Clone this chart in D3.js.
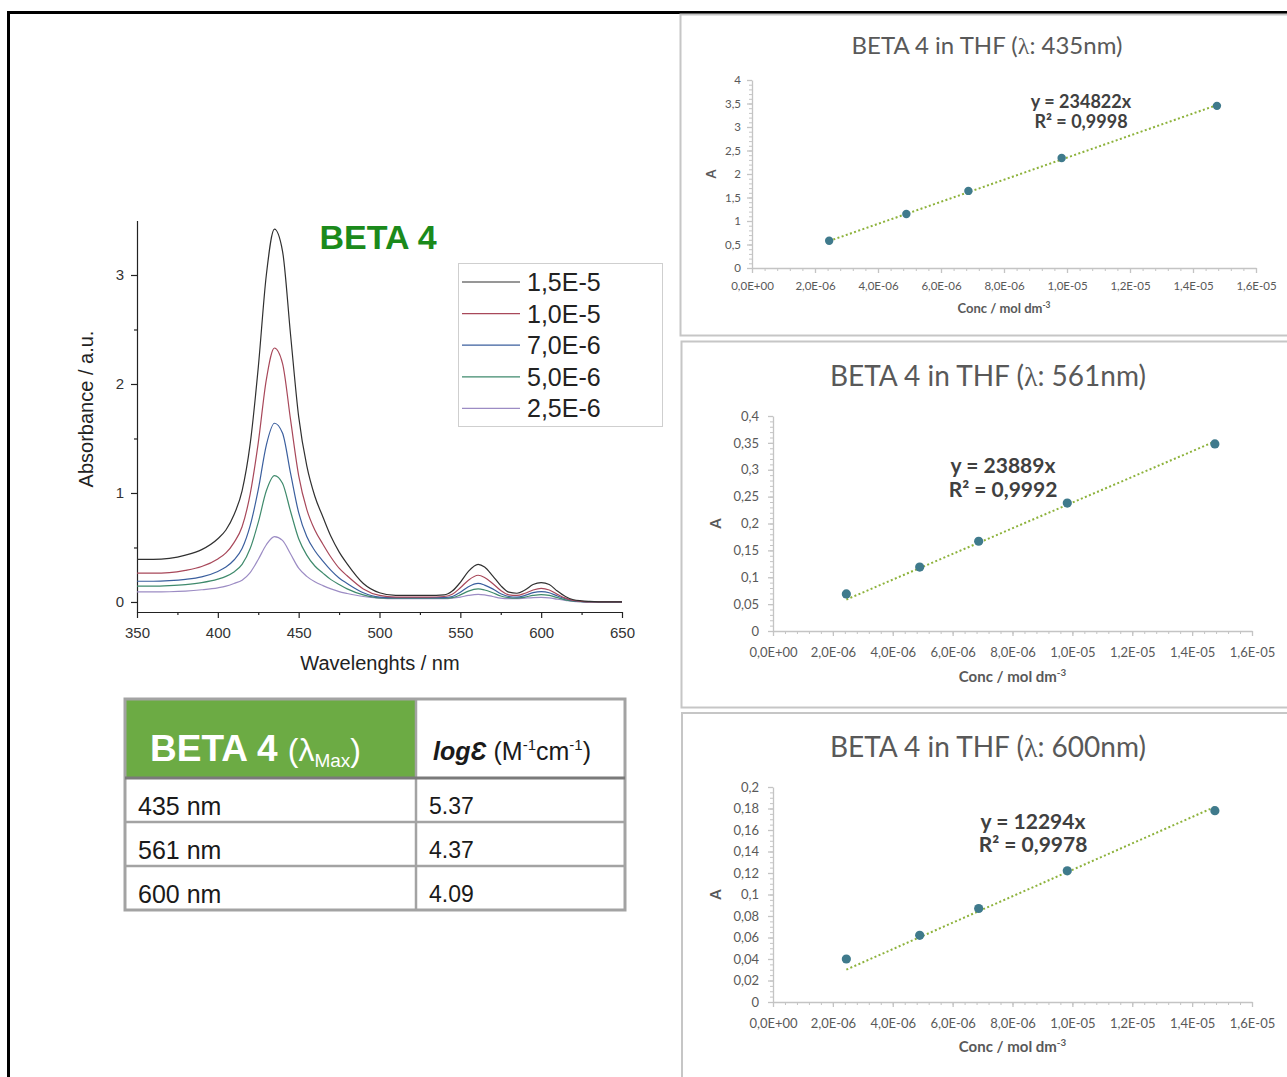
<!DOCTYPE html>
<html>
<head>
<meta charset="utf-8">
<script src="https://cdn.jsdelivr.net/npm/d3@7"></script>
<style>
  html, body { margin: 0; padding: 0; background: #fff; }
  svg { display: block; }
</style>
</head>
<body>
<svg id="fig" width="1287" height="1077"></svg>
<script>
// ---------- UV-Vis spectra of BETA 4 in THF ----------
const wavelengths = [350,360,370,380,390,400,405,410,415,420,425,430,435,440,445,450,455,460,465,470,475,480,490,500,510,520,530,540,545,550,555,561,565,570,575,580,585,590,595,600,605,610,615,620,625,630,640,650];
const absC15E5 = [0.39,0.39,0.40,0.43,0.48,0.58,0.66,0.80,1.02,1.45,2.15,3.00,3.42,3.22,2.45,1.70,1.25,0.97,0.78,0.60,0.46,0.35,0.17,0.085,0.06,0.06,0.06,0.065,0.10,0.18,0.28,0.345,0.32,0.24,0.15,0.09,0.08,0.11,0.16,0.178,0.16,0.10,0.05,0.02,0.01,0.005,0,0];
const absC10E5 = [0.265,0.265,0.27,0.29,0.325,0.395,0.45,0.545,0.69,0.99,1.46,2.04,2.33,2.19,1.67,1.16,0.85,0.66,0.53,0.41,0.31,0.24,0.12,0.06,0.045,0.045,0.045,0.05,0.07,0.13,0.20,0.245,0.225,0.17,0.105,0.065,0.06,0.08,0.11,0.125,0.11,0.07,0.035,0.015,0.005,0,0,0];
const absC70E6 = [0.19,0.19,0.195,0.207,0.23,0.28,0.32,0.385,0.49,0.70,1.03,1.44,1.64,1.55,1.18,0.82,0.60,0.47,0.375,0.29,0.22,0.17,0.085,0.045,0.04,0.04,0.04,0.04,0.05,0.09,0.14,0.17,0.155,0.12,0.075,0.05,0.045,0.06,0.085,0.095,0.085,0.055,0.03,0.012,0.004,0,0,0];
const absC50E6 = [0.145,0.145,0.15,0.16,0.178,0.21,0.235,0.275,0.345,0.49,0.73,1.02,1.16,1.09,0.83,0.58,0.43,0.33,0.265,0.205,0.16,0.12,0.065,0.038,0.035,0.035,0.035,0.035,0.04,0.065,0.10,0.12,0.11,0.085,0.055,0.04,0.035,0.045,0.06,0.068,0.06,0.04,0.02,0.008,0.003,0,0,0];
const absC25E6 = [0.092,0.092,0.094,0.10,0.112,0.13,0.145,0.17,0.20,0.27,0.39,0.525,0.60,0.565,0.44,0.31,0.235,0.185,0.15,0.12,0.095,0.078,0.05,0.035,0.03,0.03,0.03,0.03,0.035,0.045,0.06,0.07,0.065,0.05,0.035,0.03,0.03,0.035,0.04,0.042,0.038,0.025,0.015,0.005,0.002,0,0,0];
const legendLabels = ["1,5E-5","1,0E-5","7,0E-6","5,0E-6","2,5E-6"];
const specXTicks = [350,400,450,500,550,600,650];
const specXMinor = [375,425,475,525,575,625];
const specYTicks = [0,1,2,3];
const specYMinor = [0.5,1.5,2.5];

// ---------- log(epsilon) table ----------
const lambdaMaxRows = ["435 nm","561 nm","600 nm"];
const logEpsValues = ["5.37","4.37","4.09"];

// ---------- calibration lines (Beer-Lambert) ----------
const calibConc = [2.45e-6, 4.90e-6, 6.87e-6, 9.83e-6, 1.476e-5];
const calibAbs435 = [0.58, 1.15, 1.64, 2.34, 3.45];
const calibAbs561 = [0.069, 0.119, 0.167, 0.238, 0.348];
const calibAbs600 = [0.040, 0.062, 0.087, 0.122, 0.178];
const calibSlopes = [234822, 23889, 12294];
const calibR2 = ["0,9998", "0,9992", "0,9978"];
const calibLambda = ["435nm", "561nm", "600nm"];
const concTicks = [0, 2e-6, 4e-6, 6e-6, 8e-6, 1e-5, 1.2e-5, 1.4e-5, 1.6e-5];
const concTickLabels = ["0,0E+00","2,0E-06","4,0E-06","6,0E-06","8,0E-06","1,0E-05","1,2E-05","1,4E-05","1,6E-05"];
const absTicks435 = [0,0.5,1,1.5,2,2.5,3,3.5,4];
const absTickLabels435 = ["0","0,5","1","1,5","2","2,5","3","3,5","4"];
const absTicks561 = [0,0.05,0.1,0.15,0.2,0.25,0.3,0.35,0.4];
const absTickLabels561 = ["0","0,05","0,1","0,15","0,2","0,25","0,3","0,35","0,4"];
const absTicks600 = [0,0.02,0.04,0.06,0.08,0.1,0.12,0.14,0.16,0.18,0.2];
const absTickLabels600 = ["0","0,02","0,04","0,06","0,08","0,1","0,12","0,14","0,16","0,18","0,2"];

const svg = d3.select("#fig");
const ARIAL = "'Liberation Sans', Arial, sans-serif";
const CAL = "Lato, 'Open Sans', sans-serif";

// outer black frame (left and top edges visible)
svg.append("path")
  .attr("d", "M8.5,1077 V12.5 H1287")
  .attr("fill", "none").attr("stroke", "#000").attr("stroke-width", 3);

// ================= spectrum plot =================
const sx = d3.scaleLinear().domain([350, 650]).range([137, 622]);
const sy = d3.scaleLinear().domain([-0.092, 3.5]).range([612, 220.5]);

const spec = svg.append("g");

function styleAxis(g) {
  g.selectAll("path.domain").attr("stroke", "#222").attr("stroke-width", 1.2);
  g.selectAll(".tick line").attr("stroke", "#222").attr("stroke-width", 1.2);
  g.selectAll(".tick text").attr("fill", "#333").attr("font-size", 15).attr("font-family", ARIAL);
}

const yAx = spec.append("g").attr("transform", "translate(137,0)")
  .call(d3.axisLeft(sy).tickValues(specYTicks).tickFormat(d3.format("d")).tickSize(6).tickSizeOuter(0).tickPadding(7));
styleAxis(yAx);
const yMin = spec.append("g").attr("transform", "translate(137,0)")
  .call(d3.axisLeft(sy).tickValues(specYMinor).tickFormat("").tickSize(3).tickSizeOuter(0));
yMin.select("path.domain").remove();
yMin.selectAll(".tick line").attr("stroke", "#222").attr("stroke-width", 1.2);

const xAx = spec.append("g").attr("transform", "translate(0,612)")
  .call(d3.axisBottom(sx).tickValues(specXTicks).tickFormat(d3.format("d")).tickSize(6).tickSizeOuter(0).tickPadding(9));
styleAxis(xAx);
const xMin = spec.append("g").attr("transform", "translate(0,612)")
  .call(d3.axisBottom(sx).tickValues(specXMinor).tickFormat("").tickSize(3).tickSizeOuter(0));
xMin.select("path.domain").remove();
xMin.selectAll(".tick line").attr("stroke", "#222").attr("stroke-width", 1.2);

spec.append("text")
  .attr("transform", "translate(93,409) rotate(-90)")
  .attr("text-anchor", "middle").attr("font-family", ARIAL).attr("font-size", 20).attr("fill", "#222")
  .text("Absorbance / a.u.");
spec.append("text")
  .attr("x", 380).attr("y", 670)
  .attr("text-anchor", "middle").attr("font-family", ARIAL).attr("font-size", 20).attr("fill", "#222")
  .text("Wavelenghts / nm");

const specSeries = [absC15E5, absC10E5, absC70E6, absC50E6, absC25E6];
const specColors = ["#303030", "#a8485a", "#3b5f9e", "#3f8a6c", "#9c8cc4"];

const line = d3.line()
  .x((d, i) => sx(wavelengths[i]))
  .y(d => sy(d))
  .curve(d3.curveMonotoneX);

// draw the most dilute first so the darkest trace sits on top
specSeries.slice().reverse().forEach((vals, k) => {
  const idx = specSeries.length - 1 - k;
  spec.append("path")
    .datum(vals)
    .attr("d", line)
    .attr("fill", "none")
    .attr("stroke", specColors[idx])
    .attr("stroke-width", 1.2);
});

spec.append("text")
  .attr("x", 378).attr("y", 249)
  .attr("text-anchor", "middle").attr("font-family", ARIAL).attr("font-weight", "bold")
  .attr("font-size", 34).attr("fill", "#1b8a1b")
  .text("BETA 4");

// legend
const leg = spec.append("g");
leg.append("rect").attr("x", 458.5).attr("y", 263.5).attr("width", 204).attr("height", 163)
  .attr("fill", "#fff").attr("stroke", "#cfcfcf").attr("stroke-width", 1);
legendLabels.forEach((lab, i) => {
  const yy = 282 + i * 31.6;
  leg.append("line").attr("x1", 462).attr("x2", 520).attr("y1", yy).attr("y2", yy)
    .attr("stroke", specColors[i]).attr("stroke-width", 1.2);
  leg.append("text").attr("x", 527).attr("y", yy + 9)
    .attr("font-family", ARIAL).attr("font-size", 25).attr("fill", "#222").text(lab);
});

// ================= table =================
const tbl = svg.append("g");
const tX0 = 125, tX1 = 625, tXm = 416;
const tY0 = 699, tYh = 778, rowH = 44;
const tY1 = tYh + rowH * lambdaMaxRows.length;
tbl.append("rect").attr("x", tX0).attr("y", tY0).attr("width", tXm - tX0).attr("height", tYh - tY0)
  .attr("fill", "#6cab44");
tbl.append("rect").attr("x", tX0).attr("y", tY0).attr("width", tX1 - tX0).attr("height", tY1 - tY0)
  .attr("fill", "none").attr("stroke", "#a3a3a3").attr("stroke-width", 3);
tbl.append("line").attr("x1", tXm).attr("x2", tXm).attr("y1", tY0).attr("y2", tY1)
  .attr("stroke", "#a3a3a3").attr("stroke-width", 2.5);
tbl.append("line").attr("x1", tX0).attr("x2", tX1).attr("y1", tYh).attr("y2", tYh)
  .attr("stroke", "#7a7a7a").attr("stroke-width", 3);
lambdaMaxRows.forEach((r, i) => {
  if (i > 0) {
    tbl.append("line").attr("x1", tX0).attr("x2", tX1)
      .attr("y1", tYh + i * rowH).attr("y2", tYh + i * rowH)
      .attr("stroke", "#a3a3a3").attr("stroke-width", 2.5);
  }
  tbl.append("text").attr("x", 138).attr("y", tYh + i * rowH + 37)
    .attr("font-family", ARIAL).attr("font-size", 25).attr("fill", "#1a1a1a").text(r);
  tbl.append("text").attr("x", 429).attr("y", tYh + i * rowH + 36)
    .attr("font-family", ARIAL).attr("font-size", 23).attr("fill", "#1a1a1a").text(logEpsValues[i]);
});
const hdr = tbl.append("text").attr("x", 150).attr("y", 761)
  .attr("font-family", ARIAL).attr("fill", "#fff");
hdr.append("tspan").attr("font-size", 37).attr("font-weight", "bold").text("BETA 4 ");
hdr.append("tspan").attr("font-size", 32).text("(λ");
hdr.append("tspan").attr("font-size", 19).attr("dy", 6).text("Max");
hdr.append("tspan").attr("font-size", 32).attr("dy", -6).text(")");

const hdr2 = tbl.append("text").attr("x", 433).attr("y", 760)
  .attr("font-family", ARIAL).attr("fill", "#1a1a1a").attr("font-size", 25);
hdr2.append("tspan").attr("font-weight", "bold").attr("font-style", "italic").text("logƐ");
hdr2.append("tspan").text(" (M");
hdr2.append("tspan").attr("font-size", 15).attr("dy", -10).text("-1");
hdr2.append("tspan").attr("dy", 10).text("cm");
hdr2.append("tspan").attr("font-size", 15).attr("dy", -10).text("-1");
hdr2.append("tspan").attr("dy", 10).text(")");

// ================= calibration panels =================
const panels = [
  { abs: calibAbs435, slope: calibSlopes[0], r2: calibR2[0], lam: calibLambda[0],
    yTicks: absTicks435, yLabels: absTickLabels435, yMinorStep: 0.1,
    box: [680.5, 14.5, 640, 321], x0: 752, x1: 1256, y0: 268, y1: 80,
    titleX: 987, titleY: 54, titleSize: 24, tick: 11.5, yLabelX: 741, xLabelY: 290,
    axTitleY: 313, axTitleSize: 13, aX: 711, eqX: 1081, eqY: 108, eqSize: 18, eqGap: 20, r: 4.2 },
  { abs: calibAbs561, slope: calibSlopes[1], r2: calibR2[1], lam: calibLambda[1],
    yTicks: absTicks561, yLabels: absTickLabels561, yMinorStep: 0.01,
    box: [681.5, 341.5, 640, 366], x0: 773, x1: 1252, y0: 631, y1: 416,
    titleX: 988, titleY: 386, titleSize: 28, tick: 13, yLabelX: 759, xLabelY: 657,
    axTitleY: 682, axTitleSize: 15, aX: 716, eqX: 1003, eqY: 473, eqSize: 21, eqGap: 24, r: 4.6 },
  { abs: calibAbs600, slope: calibSlopes[2], r2: calibR2[2], lam: calibLambda[2],
    yTicks: absTicks600, yLabels: absTickLabels600, yMinorStep: 0.005,
    box: [682, 713, 640, 420], x0: 773, x1: 1252, y0: 1002, y1: 787,
    titleX: 988, titleY: 757, titleSize: 28, tick: 13, yLabelX: 759, xLabelY: 1028,
    axTitleY: 1052, axTitleSize: 15, aX: 716, eqX: 1033, eqY: 829, eqSize: 21, eqGap: 23, r: 4.6 }
];

panels.forEach(p => {
  const g = svg.append("g");
  g.append("rect").attr("x", p.box[0]).attr("y", p.box[1]).attr("width", p.box[2]).attr("height", p.box[3])
    .attr("fill", "#fff").attr("stroke", "#c6c6c6").attr("stroke-width", 2);

  const yMax = p.yTicks[p.yTicks.length - 1];
  const x = d3.scaleLinear().domain([0, 1.6e-5]).range([p.x0, p.x1]);
  const y = d3.scaleLinear().domain([0, yMax]).range([p.y0, p.y1]);

  // title
  const t = g.append("text").attr("x", p.titleX).attr("y", p.titleY).attr("text-anchor", "middle")
    .attr("font-family", CAL).attr("font-size", p.titleSize).attr("fill", "#595959");
  t.append("tspan").text("BETA 4 in THF (");
  t.append("tspan").attr("font-family", "'Liberation Serif', serif").text("λ");
  t.append("tspan").text(": " + p.lam + ")");

  // minor ticks
  const yMinorVals = d3.range(0, yMax + p.yMinorStep / 2, p.yMinorStep);
  const xMinorVals = d3.range(0, 1.6e-5 + 1e-7, 4e-7);
  const yMinorAx = g.append("g").attr("transform", `translate(${p.x0},0)`)
    .call(d3.axisLeft(y).tickValues(yMinorVals).tickFormat("").tickSize(3).tickSizeOuter(0));
  const xMinorAx = g.append("g").attr("transform", `translate(0,${p.y0})`)
    .call(d3.axisBottom(x).tickValues(xMinorVals).tickFormat("").tickSize(3).tickSizeOuter(0));
  [yMinorAx, xMinorAx].forEach(a => {
    a.select("path.domain").attr("stroke", "#c4c4c4").attr("stroke-width", 1.3);
    a.selectAll(".tick line").attr("stroke", "#c4c4c4").attr("stroke-width", 1);
  });

  // labelled ticks
  const yAxis = g.append("g").attr("transform", `translate(${p.x0},0)`)
    .call(d3.axisLeft(y).tickValues(p.yTicks).tickFormat((d, i) => p.yLabels[i])
      .tickSize(5).tickSizeOuter(0).tickPadding(p.x0 - p.yLabelX - 5));
  yAxis.select("path.domain").remove();
  yAxis.selectAll(".tick line").attr("stroke", "#c4c4c4").attr("stroke-width", 1.3);
  yAxis.selectAll(".tick text").attr("font-family", CAL).attr("font-size", p.tick).attr("fill", "#595959");

  const xAxis = g.append("g").attr("transform", `translate(0,${p.y0})`)
    .call(d3.axisBottom(x).tickValues(concTicks).tickFormat((d, i) => concTickLabels[i])
      .tickSize(5).tickSizeOuter(0).tickPadding(6));
  xAxis.select("path.domain").remove();
  xAxis.selectAll(".tick line").attr("stroke", "#c4c4c4").attr("stroke-width", 1.3);
  xAxis.selectAll(".tick text").attr("font-family", CAL).attr("font-size", p.tick).attr("fill", "#595959")
    .attr("dy", null).attr("y", null)
    .attr("transform", `translate(0,${p.xLabelY - p.y0})`);

  // axis titles
  const ct = g.append("text").attr("x", (p.x0 + p.x1) / 2).attr("y", p.axTitleY).attr("text-anchor", "middle")
    .attr("font-family", CAL).attr("font-weight", "bold").attr("font-size", p.axTitleSize).attr("fill", "#595959");
  ct.append("tspan").text("Conc / mol dm");
  ct.append("tspan").attr("font-size", p.axTitleSize * 0.65).attr("dy", -p.axTitleSize * 0.4).text("-3");
  g.append("text").attr("transform", `translate(${p.aX},${(p.y0 + p.y1) / 2}) rotate(-90)`)
    .attr("text-anchor", "middle").attr("dy", "0.35em")
    .attr("font-family", CAL).attr("font-weight", "bold").attr("font-size", p.axTitleSize).attr("fill", "#595959")
    .text("A");

  // linear fit through the origin
  const cMin = calibConc[0], cMax = calibConc[calibConc.length - 1];
  g.append("line")
    .attr("x1", x(cMin)).attr("y1", y(p.slope * cMin))
    .attr("x2", x(cMax)).attr("y2", y(p.slope * cMax))
    .attr("stroke", "#8db23b").attr("stroke-width", 2).attr("stroke-dasharray", "2,2.4");

  // measured points
  g.selectAll("circle.pt").data(p.abs).enter().append("circle")
    .attr("class", "pt")
    .attr("cx", (d, i) => x(calibConc[i]))
    .attr("cy", d => y(d))
    .attr("r", p.r)
    .attr("fill", "#3f7a8c");

  // equation and R²
  g.append("text").attr("x", p.eqX).attr("y", p.eqY).attr("text-anchor", "middle")
    .attr("font-family", CAL).attr("font-weight", "bold").attr("font-size", p.eqSize).attr("fill", "#404040")
    .text("y = " + p.slope + "x");
  g.append("text").attr("x", p.eqX).attr("y", p.eqY + p.eqGap).attr("text-anchor", "middle")
    .attr("font-family", CAL).attr("font-weight", "bold").attr("font-size", p.eqSize).attr("fill", "#404040")
    .text("R² = " + p.r2);
});
</script>
</body>
</html>
